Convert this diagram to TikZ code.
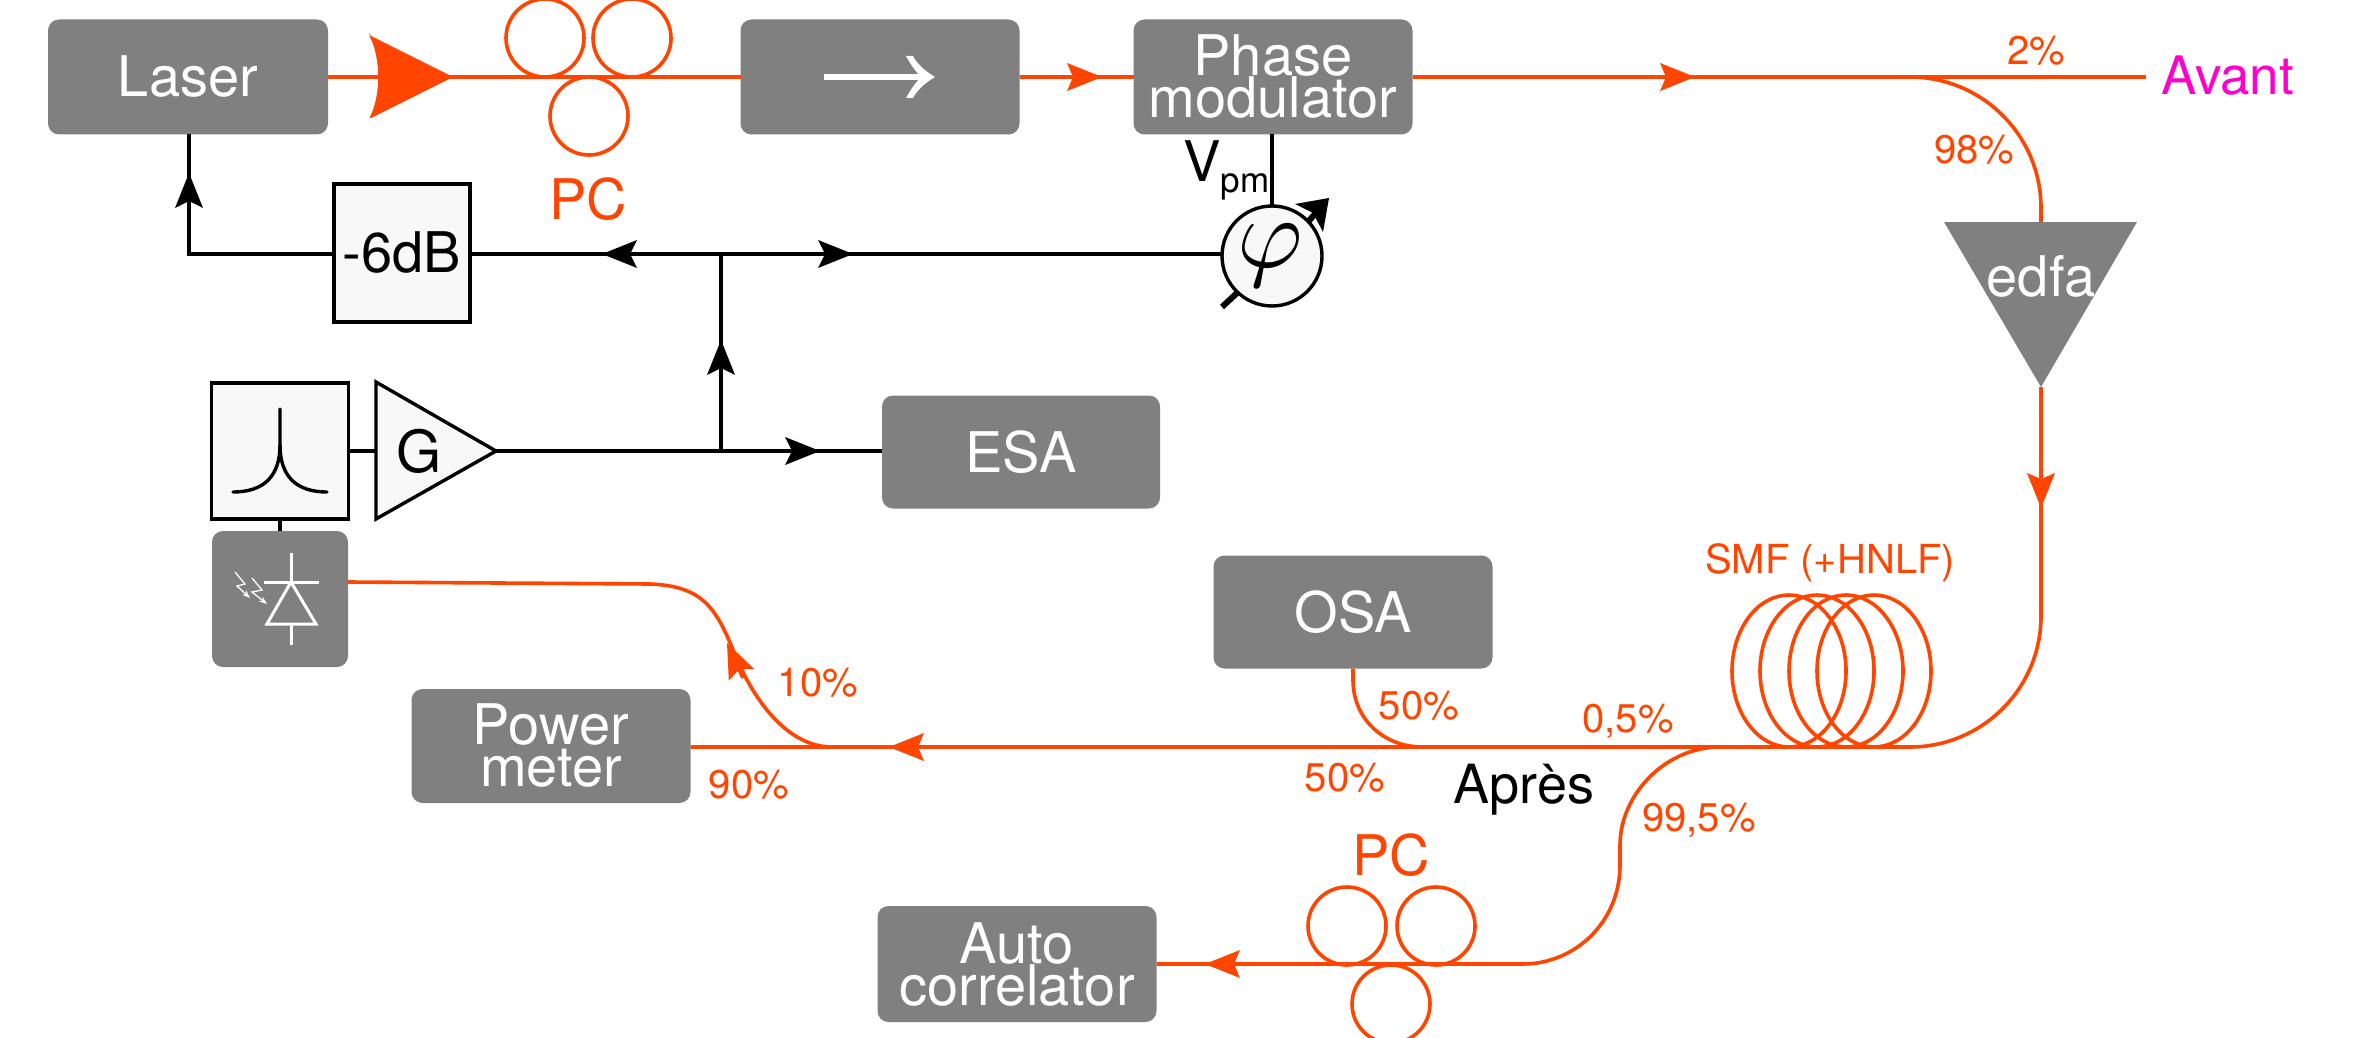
\documentclass[tikz,border=0pt]{standalone}
\usepackage{fontspec}
\setmainfont{TeX Gyre Heros}
\usetikzlibrary{arrows.meta}
\definecolor{fib}{HTML}{FF4500}
\definecolor{boxgrey}{HTML}{808080}
\definecolor{pale}{HTML}{F8F8F8}
\definecolor{mag}{HTML}{FF00CC}
\newcommand{\fs}[2]{\fontsize{#1}{#2}\selectfont}
\tikzset{
  greybox/.style={fill=boxgrey,draw=none,rounded corners=11pt,text=white,minimum width=280pt,minimum height=115pt,inner sep=0pt,outer sep=0pt,align=center,font=\fs{56}{42}},
  palebox/.style={fill=pale,draw=black,line width=3.6pt,inner sep=0pt,outer sep=0pt,font=\fs{56}{60}},
  fibre/.style={draw=fib,line width=3.6pt},
  wire/.style={draw=black,line width=3.4pt},
  oarrow/.style={draw=fib,line width=3.6pt,-{Stealth[length=35pt,width=28pt,inset=6pt,line width=0pt]}},
  karrow/.style={draw=black,line width=3.4pt,-{Stealth[length=35pt,width=28pt,inset=7pt,line width=0pt]}},
  pct/.style={text=fib,font=\fs{40}{44},inner sep=0pt},
  pclabel/.style={text=fib,font=\fs{56}{60},inner sep=0pt},
  whiteline/.style={draw=white,line width=3pt},
  whitebolt/.style={draw=white,line width=1.3pt,-{Stealth[length=8pt,width=6pt]}},
}
\begin{document}
\begin{tikzpicture}[x=1pt,y=-1pt]
\useasboundingbox (0,0) rectangle (2359,1038);
% named anchors
\coordinate (jL) at (721,254);
\coordinate (jE) at (721,451);
\coordinate (corner) at (189,254);
\coordinate (ampTip) at (453,77);
\coordinate (avantEnd) at (2146,77);
\coordinate (splitTop) at (1880,77);
\coordinate (cornerTop) at (2041,77);
\coordinate (edfaTop) at (2041,222);
\coordinate (edfaTip) at (2041,387);
\coordinate (cornerBot) at (2041,747);
\coordinate (gTip) at (496,451);
\coordinate (gBack) at (376,451);
% fibre lines
\draw[fibre,rounded corners=131pt] (splitTop) -- (cornerTop) -- (edfaTop);
\draw[fibre] (1413,77) -- (avantEnd);
\node[greybox,minimum width=280pt,minimum height=115pt] (laser) at (188,77) {Laser};
\node[greybox,minimum width=279pt,minimum height=115pt] (iso) at (880,77) {};
\node[greybox,minimum width=279pt,minimum height=115pt] (pm) at (1273,77) {Phase\\modulator};
\node[greybox,minimum width=278pt,minimum height=113pt] (esa) at (1021,452) {ESA};
\node[greybox,minimum width=279pt,minimum height=113pt] (osa) at (1353,612) {OSA};
\node[greybox,minimum width=279pt,minimum height=114pt] (pow) at (551,746) {Power\\meter};
\node[greybox,minimum width=279pt,minimum height=116pt] (auto) at (1017,964) {Auto\\correlator};
\node[greybox,minimum width=136pt,minimum height=136pt] (det) at (280,599) {};
\draw[fibre] (laser.east |- ampTip) -- (iso.west);
\draw[fibre] (iso.east) -- (pm.west);
\draw[fibre,rounded corners=131pt] (edfaTip) -- (cornerBot) -- (pow.east |- cornerBot);
\draw[fibre] (1720,747) .. controls (1665,747) and (1620,795) .. (1620,845) -- (1620,865) .. controls (1620,922) and (1575,964) .. (1523,964) -- (auto.east |- 0,964);
\draw[fibre] (osa.south) -- (1353,680) .. controls (1353,720) and (1385,747) .. (1422,747);
\draw[fibre] (832,747) .. controls (790,747) and (755,705) .. (733,650) .. controls (715,605) and (700,586) .. (650,584) -- (det.east |- 0,582);
% fibre amplifier
\fill[fib,rounded corners=2pt] (369,35) -- (ampTip) -- (369,119) .. controls (381,95) and (381,59) .. cycle;
% polarisation controllers
\foreach \cx/\cy in {545/38,632/38,589/116,1347/926,1436/926,1391/1004}
  \draw[fibre] (\cx,\cy) circle (39pt);
\node[pclabel] (pc1) at (588,199) {PC};
\node[pclabel] (pc2) at (1391,855) {PC};
% fibre spool
\foreach \cx in {1789,1817,1846,1874}
  \draw[fibre] (\cx,671) ellipse [x radius=57pt,y radius=76pt];
\node[pct] (smf) at (1830,563) {SMF (+HNLF)};
% edfa
\fill[boxgrey] (1944,222) -- (2137,222) -- (edfaTip) -- cycle;
\node[text=white,font=\fs{56}{58},inner sep=0pt] (edfa) at (2041,276) {edfa};
% fibre arrows
\draw[oarrow] (1067,77) -- (1102,77);
\draw[oarrow] (1660,77) -- (1695,77);
\draw[oarrow] (2041,472) -- (2041,508);
\draw[oarrow] (923,747) -- (889,747);
\draw[oarrow] (1241,964) -- (1205,964);
\draw[oarrow] (743,678) -- (727,643);
% isolator arrow
\draw[draw=white,line width=6pt] (824,77) -- (925,77);
\fill[white] (935,77) .. controls (925,71) and (917,64) .. (913,56) -- (906,56) .. controls (911,65) and (916,72) .. (921,77) .. controls (916,82) and (911,89) .. (906,98) -- (913,98) .. controls (917,90) and (925,83) .. cycle;
% electrical
\node[palebox,minimum width=136pt,minimum height=138pt] (att) at (402,253) {-6dB};
\node[draw=black,fill=pale,circle,line width=3.4pt,minimum size=100pt,inner sep=0pt,outer sep=0pt] (phs) at (1272,256) {};
\node[inner sep=0pt] (phi) at (1270,256) {\scalebox{10}{$\varphi$}};
\node[palebox,minimum width=137pt,minimum height=136pt] (filt) at (280,451) {};
\draw[wire] (att.west |- corner) -- (corner) -- (laser.south -| corner);
\draw[wire] (att.east |- jL) -- (phs.west |- jL);
\draw[wire] (pm.south -| phs) -- (phs.north);
\draw[wire] (jE) -- (jL);
\draw[wire] (gTip) -- (esa.west |- gTip);
\draw[wire] (filt.east) -- (gBack);
\draw[wire] (filt.south) -- (det.north);
\draw[karrow] (corner |- 0,210) -- (corner |- 0,173);
\draw[karrow] (637,254) -- (602,254);
\draw[karrow] (817,254) -- (853,254);
\draw[karrow] (jE |- 0,378) -- (jE |- 0,340);
\draw[karrow] (782,451) -- (820,451);
% amplifier G
\draw[fill=pale,draw=black,line width=3.4pt,line join=miter] (376,382) -- (gTip) -- (376,519) -- cycle;
\node[inner sep=0pt,font=\fs{58}{60}] (glab) at (419,451) {G};
% phase-shifter arrow
\draw[line width=6pt] (1222,307) -- (1237,293);
\draw[line width=6pt] (1308,222) -- (1320,208);
\fill (1329,198) -- (1295,204) -- (1313,213) -- (1323,232) -- cycle;
% Lorentzian
\draw[line width=3.4pt,line cap=round] (233,492) .. controls (265,492) and (280,475) .. (280,445) -- (280,409);
\draw[line width=3.4pt,line cap=round] (327,492) .. controls (295,492) and (280,475) .. (280,445);
% photodiode
\draw[whiteline] (291,553) -- (291,582);
\draw[whiteline] (264,582) -- (319,582);
\draw[whiteline,line join=miter] (291,582) -- (316,624) -- (267,624) -- cycle;
\draw[whiteline] (291,624) -- (291,645);
\draw[whitebolt] (235,572) -- (245,584) -- (237,586) -- (250,598);
\draw[whitebolt] (252,578) -- (262,590) -- (252,592) -- (267,604);
% labels
\node[anchor=base west,inner sep=0pt,font=\fs{56}{60}] (vpm) at (1183,182) {V\raisebox{-11pt}{\fs{35}{40}\selectfont pm}};
\node[pct] (l2) at (2036,51) {2\%};
\node[anchor=base west,text=mag,inner sep=0pt,font=\fs{53}{56}] (avant) at (2161,95) {Avant};
\node[pct] (l98) at (1974,150) {98\%};
\node[pct] (l50a) at (1419,706) {50\%};
\node[pct] (l05) at (1628,721) {0,5\%};
\node[pct] (l50b) at (1345,778) {50\%};
\node[inner sep=0pt,font=\fs{54}{56}] (apres) at (1524,790) {Après};
\node[pct] (l995) at (1699,820) {99,5\%};
\node[pct] (l10) at (818,683) {10\%};
\node[pct] (l90) at (749,785) {90\%};
\end{tikzpicture}
\end{document}
